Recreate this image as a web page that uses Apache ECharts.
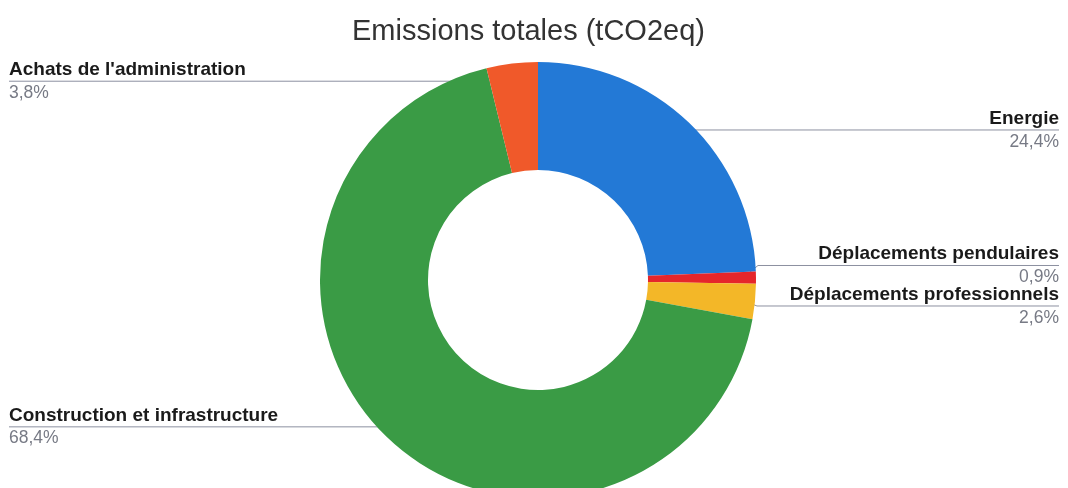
<!DOCTYPE html>
<html>
<head>
<meta charset="utf-8">
<script src="https://cdn.jsdelivr.net/npm/echarts@6/dist/echarts.min.js"></script>
<style>
  html, body { margin: 0; padding: 0; background: #fff; }
  #chart { width: 1068px; height: 488px; }
</style>
</head>
<body>
<div id="chart"></div>
<script>
const titleText = 'Emissions totales (tCO2eq)';
const categories = ['Energie', 'Déplacements pendulaires', 'Déplacements professionnels', 'Construction et infrastructure', "Achats de l'administration"];
const shares = [24.4, 0.9, 2.6, 68.4, 3.8];
const sliceColors = ['#2379d6', '#e5262b', '#f3b728', '#3a9b45', '#f0592a'];
// small vertical nudges of the callout labels (layout only)
const labelNudgeY = [-2, -12, -15, -2, 5];

const FONT = '"Liberation Sans", Arial, sans-serif';
const chart = echarts.init(document.getElementById('chart'), null, { renderer: 'canvas' });

function fmtPct(v) { return v.toFixed(1).replace('.', ',') + '%'; }

const data = categories.map((name, i) => ({ name: name, value: shares[i], itemStyle: { color: sliceColors[i] } }));
const labelData = categories.map((name, i) => ({ name: name, value: shares[i] }));

chart.setOption({
  animation: false,
  backgroundColor: '#ffffff',
  title: {
    text: titleText,
    left: 347,
    top: 12,
    textStyle: { fontFamily: FONT, fontSize: 29, fontWeight: 'normal', color: '#333333' }
  },
  series: [
    {
      type: 'pie',
      z: 1,
      center: [538, 280],
      radius: [0, 205],
      startAngle: 90,
      clockwise: true,
      silent: true,
      avoidLabelOverlap: true,
      itemStyle: { color: 'rgba(0,0,0,0)' },
      emphasis: { disabled: true },
      label: {
        show: true,
        position: 'outer',
        alignTo: 'edge',
        edgeDistance: 9,
        formatter: function (p) { return '{n|' + p.name + '}\n{p|' + fmtPct(p.value) + '}'; },
        rich: {
          n: { fontFamily: FONT, fontSize: 19, fontWeight: 'bold', color: '#1a1a1a', lineHeight: 23 },
          p: { fontFamily: FONT, fontSize: 17.5, color: '#777a85', lineHeight: 23 }
        }
      },
      labelLine: {
        show: true,
        length: 0,
        length2: 10,
        lineStyle: { color: '#8c90a0', width: 1 }
      },
      labelLayout: function (params) {
        const rect = params.labelRect;
        const isLeft = rect.x < chart.getWidth() / 2;
        const dy = labelNudgeY[params.dataIndex] || 0;
        const cy = rect.y + dy + rect.height / 2;
        const points = params.labelLinePoints;
        if (!points) return { dy: dy };
        const p0 = points[0];
        const p1 = Math.abs(p0[1] - cy) > 3 ? [p0[0] + (isLeft ? -15 : 15), cy] : [p0[0], cy];
        const p2 = [isLeft ? rect.x : rect.x + rect.width, cy];
        return { dy: dy, labelLinePoints: [p0, p1, p2] };
      },
      data: labelData
    },
    {
      type: 'pie',
      z: 2,
      center: [538, 280],
      radius: [110, 218],
      startAngle: 90,
      clockwise: true,
      silent: true,
      label: { show: false },
      labelLine: { show: false },
      emphasis: { disabled: true },
      itemStyle: { borderWidth: 0 },
      data: data
    }
  ]
});
</script>
</body>
</html>
